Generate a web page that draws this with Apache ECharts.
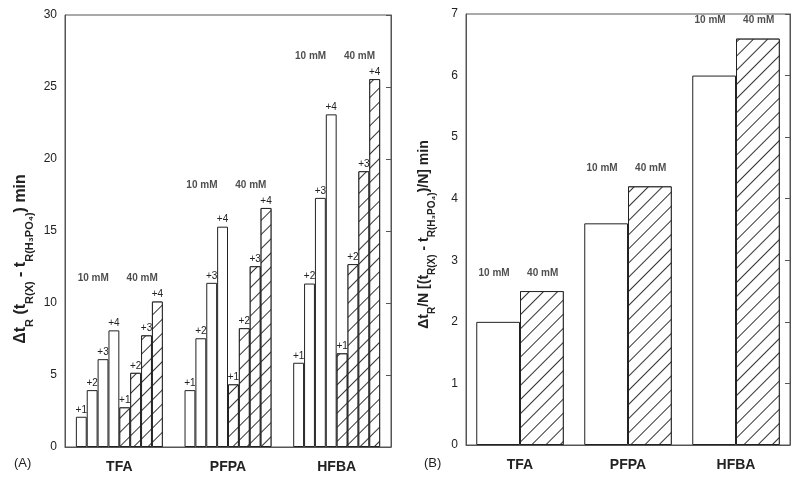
<!DOCTYPE html>
<html>
<head>
<meta charset="utf-8">
<script src="https://cdn.jsdelivr.net/npm/echarts@6/dist/echarts.min.js"></script>
<style>
html,body{margin:0;padding:0;background:#fff;}
#chart{width:800px;height:481px;}
</style>
</head>
<body>
<div id="chart"></div>
<script>
// ---- data ----
const categories = ['TFA', 'PFPA', 'HFBA'];
const concLabels = ['10 mM', '40 mM'];
const chargeLabels = ['+1', '+2', '+3', '+4'];
// Panel A: delta tR (min) per charge state, 10 mM and 40 mM
const a10mM_p1 = [2.1, 3.95, 5.85];
const a10mM_p2 = [3.95, 7.55, 11.35];
const a10mM_p3 = [6.1, 11.4, 17.3];
const a10mM_p4 = [8.1, 15.3, 23.1];
const a40mM_p1 = [2.75, 4.35, 6.5];
const a40mM_p2 = [5.15, 8.25, 12.7];
const a40mM_p3 = [7.75, 12.55, 19.15];
const a40mM_p4 = [10.1, 16.6, 25.55];
// Panel B: delta tR / N (min)
const b10mM = [2.0, 3.6, 6.0];
const b40mM = [2.5, 4.2, 6.6];
const yTicksA = [0, 5, 10, 15, 20, 25, 30];
const yTicksB = [0, 1, 2, 3, 4, 5, 6, 7];

// ---- styles ----
const ink = '#222';
const frame = '#555';
const font = 'Liberation Sans, Arial, sans-serif';
const hatch = {
  symbol: 'rect', symbolSize: 1,
  dashArrayX: [1, 0], dashArrayY: [1, 9],
  rotation: -Math.PI / 4,
  color: '#333', backgroundColor: '#fff'
};

const seriesA10 = [a10mM_p1, a10mM_p2, a10mM_p3, a10mM_p4];
const seriesA40 = [a40mM_p1, a40mM_p2, a40mM_p3, a40mM_p4];

function barSeries(data, name, label, hatched, xi, yi) {
  return {
    type: 'bar', name: name, data: data,
    xAxisIndex: xi, yAxisIndex: yi,
    barGap: '0%',
    barCategoryGap: xi === 0 ? '20%' : '19%',
    itemStyle: Object.assign({ color: '#fff', borderColor: ink, borderWidth: 1 },
      hatched ? { decal: hatch } : {}),
    label: label ? {
      show: true, position: 'top', distance: 2, formatter: label,
      fontFamily: font, fontSize: 10, color: ink
    } : { show: false },
    animation: false
  };
}

const series = [];
seriesA10.forEach((d, i) => series.push(barSeries(d, concLabels[0] + ' ' + chargeLabels[i], chargeLabels[i], false, 0, 0)));
seriesA40.forEach((d, i) => series.push(barSeries(d, concLabels[1] + ' ' + chargeLabels[i], chargeLabels[i], true, 0, 0)));
series.push(barSeries(b10mM, concLabels[0], null, false, 2, 2));
series.push(barSeries(b40mM, concLabels[1], null, true, 2, 2));

// concentration labels above each group
const offs = [0.26, 0.71];
function concPoints(maxArr) {
  const pts = [];
  categories.forEach((c, i) => {
    concLabels.forEach((l, j) => pts.push({ value: [i + offs[j], maxArr[i]], name: l }));
  });
  return pts;
}
const maxA = categories.map((c, i) => Math.max(...seriesA10.map(s => s[i]), ...seriesA40.map(s => s[i])));
const maxB = categories.map((c, i) => Math.max(b10mM[i], b40mM[i]));
function concSeries(pts, xi, yi, dy) {
  return {
    type: 'scatter', data: pts, xAxisIndex: xi, yAxisIndex: yi,
    symbolSize: 0, silent: true, animation: false,
    label: {
      show: true, position: 'inside', offset: [0, -dy],
      formatter: p => p.name, fontFamily: font, fontSize: 10,
      fontWeight: 'bold', color: ink
    }
  };
}
series.push(concSeries(concPoints(maxA), 1, 0, 23));
series.push(concSeries(concPoints(maxB), 3, 2, 18));

function richTitle(main, sub, lh) {
  return {
    b: { fontFamily: font, fontSize: main, fontWeight: 'bold', color: ink, lineHeight: lh },
    s: { fontFamily: font, fontSize: sub, fontWeight: 'bold', color: ink, lineHeight: sub, verticalAlign: 'bottom' }
  };
}

function catAxis(gi) {
  return {
    type: 'category', gridIndex: gi, data: categories,
    axisLine: { show: true, lineStyle: { color: frame, width: 1 } },
    axisTick: { show: false },
    axisLabel: { margin: 13, fontFamily: font, fontSize: 14, fontWeight: 'bold', color: ink }
  };
}
function hiddenX(gi) {
  return { type: 'value', gridIndex: gi, min: 0, max: 3, show: false };
}
function valAxis(gi, ticks, name, gap, rich, pad) {
  return {
    type: 'value', gridIndex: gi, min: ticks[0], max: ticks[ticks.length - 1],
    interval: ticks[1] - ticks[0], position: 'left',
    name: name, nameLocation: 'middle', nameGap: gap, nameRotate: 90,
    nameTextStyle: { rich: rich, padding: pad },
    axisLine: { show: true, lineStyle: { color: frame, width: 1 } },
    axisTick: { show: false },
    splitLine: { show: false },
    axisLabel: { margin: 8, fontFamily: font, fontSize: 12, color: ink }
  };
}
function rightAxis(gi, ticks) {
  return {
    type: 'value', gridIndex: gi, min: ticks[0], max: ticks[ticks.length - 1],
    interval: ticks[1] - ticks[0], position: 'right',
    axisLine: { show: true, lineStyle: { color: frame, width: 1 } },
    axisTick: { show: true, inside: true, length: 5, lineStyle: { color: frame } },
    splitLine: { show: false },
    axisLabel: { show: false }
  };
}

const option = {
  backgroundColor: '#fff',
  animation: false,
  grid: [
    { left: 65, right: 409, top: 15, bottom: 34, show: true, borderColor: frame, borderWidth: 1 },
    { left: 466, right: 10, top: 14, bottom: 36, show: true, borderColor: frame, borderWidth: 1 }
  ],
  xAxis: [catAxis(0), hiddenX(0), catAxis(1), hiddenX(1)],
  yAxis: [
    valAxis(0, yTicksA, '{b|Δt}{s|R}{b| (t}{s|R(X)}{b| - t}{s|R(H₃PO₄)}{b|) min}', 30,
      richTitle(16, 11, 28), [0, 56, 0, 0]),
    rightAxis(0, yTicksA),
    valAxis(1, yTicksB, '{b|Δt}{s|R}{b|/N [(t}{s|R(X)}{b| - t}{s|R(H₃PO₄)}{b|)/N] min}', 29,
      richTitle(14, 10, 26), [0, 10, 0, 0]),
    rightAxis(1, yTicksB)
  ],
  graphic: [
    { type: 'text', left: 14, top: 457, style: { text: '(A)', fontFamily: font, fontSize: 13, fill: ink } },
    { type: 'text', left: 424, top: 457, style: { text: '(B)', fontFamily: font, fontSize: 13, fill: ink } }
  ],
  series: series
};

const chart = echarts.init(document.getElementById('chart'), null, { renderer: 'canvas' });
chart.setOption(option);
</script>
</body>
</html>
